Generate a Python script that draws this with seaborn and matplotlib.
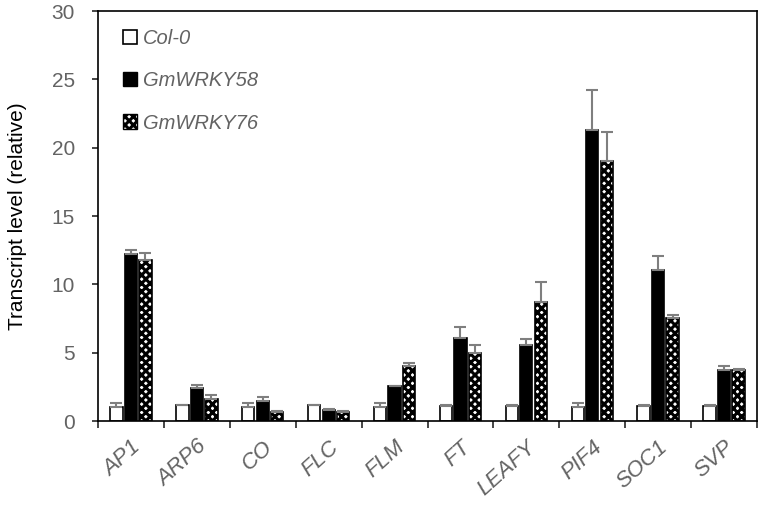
import numpy as np
import pandas as pd
import seaborn as sns
import matplotlib.pyplot as plt
from matplotlib.patches import Patch

# Values
genes = ["AP1", "ARP6", "CO", "FLC", "FLM", "FT", "LEAFY", "PIF4", "SOC1", "SVP"]
lines = ["Col-0", "GmWRKY58", "GmWRKY76"]

col0 = [1.05, 1.15, 1.05, 1.15, 1.05, 1.1, 1.1, 1.05, 1.1, 1.1]
wrky58 = [12.2, 2.4, 1.5, 0.85, 2.55, 6.05, 5.6, 21.3, 11.05, 3.75]
wrky76 = [11.8, 1.65, 0.65, 0.65, 4.0, 5.0, 8.7, 19.0, 7.55, 3.72]

col0_err = [0.3, 0.05, 0.3, 0.05, 0.3, 0.05, 0.05, 0.3, 0.05, 0.05]
wrky58_err = [0.3, 0.25, 0.25, 0.05, 0.05, 0.85, 0.4, 2.9, 1.0, 0.25]
wrky76_err = [0.5, 0.25, 0.08, 0.08, 0.25, 0.6, 1.45, 2.15, 0.25, 0.1]

df = pd.DataFrame({
    "gene": genes * 3,
    "line": np.repeat(lines, len(genes)),
    "value": col0 + wrky58 + wrky76,
})

sns.set_style("ticks")
plt.rcParams["font.family"] = ["Liberation Sans", "DejaVu Sans"]
plt.rcParams["hatch.linewidth"] = 2.2

grey = "#636363"

fig, ax = plt.subplots(figsize=(7.6, 5.05), dpi=100)
fig.subplots_adjust(left=0.129, right=0.996, top=0.978, bottom=0.166)

sns.barplot(data=df, x="gene", y="value", hue="line", order=genes, hue_order=lines,
            palette=["white", "black", "white"], width=0.66, gap=0.15,
            errorbar=None, edgecolor="black", linewidth=1.2, legend=False, ax=ax)

# style bars and draw the upper error bars
n = len(genes)
for i, bar in enumerate(ax.patches[:3 * n]):
    k = i // n
    if k == 2:
        bar.set_hatch("xxxx")
    errs = [col0_err, wrky58_err, wrky76_err][k]
    x = bar.get_x() + bar.get_width() / 2
    ax.errorbar(x, bar.get_height(), yerr=[[0], [errs[i % n]]], fmt="none",
                ecolor="#7f7f7f", elinewidth=1.5, capsize=4, capthick=1.5, zorder=1)

ax.set_ylim(0, 30)
ax.set_xlim(-0.5, n - 0.5)
ax.set_yticks(range(0, 31, 5))
ax.set_xticks(np.arange(-0.5, n, 1))
ax.set_xticklabels([])
ax.set_xticks(range(n), minor=True)
ax.set_xticklabels(genes, minor=True, rotation=42, ha="right", rotation_mode="anchor",
                   style="italic", color=grey, fontsize=16)
ax.tick_params(axis="x", which="minor", length=0, pad=11)
ax.tick_params(axis="x", which="major", length=5, width=1.2, direction="out")
ax.tick_params(axis="y", length=4.5, width=1.2, direction="out", labelsize=15,
               labelcolor=grey, pad=12)
for s in ax.spines.values():
    s.set_linewidth(1.2)
    s.set_color("black")

ax.set_xlabel("")
ax.set_ylabel("Transcript level (relative)", fontsize=15, color="black", labelpad=18)

handles = [Patch(facecolor="white", edgecolor="black", linewidth=1.2),
           Patch(facecolor="black", edgecolor="black"),
           Patch(facecolor="white", edgecolor="black", hatch="xxxx")]
ax.legend(handles, lines, loc="upper left", bbox_to_anchor=(0.01, 1.0), frameon=False,
          handlelength=0.7, handleheight=0.7, handletextpad=0.3, labelspacing=1.15,
          prop={"style": "italic", "size": 14.5}, labelcolor=grey)

fig.savefig("out.png", dpi=100)
